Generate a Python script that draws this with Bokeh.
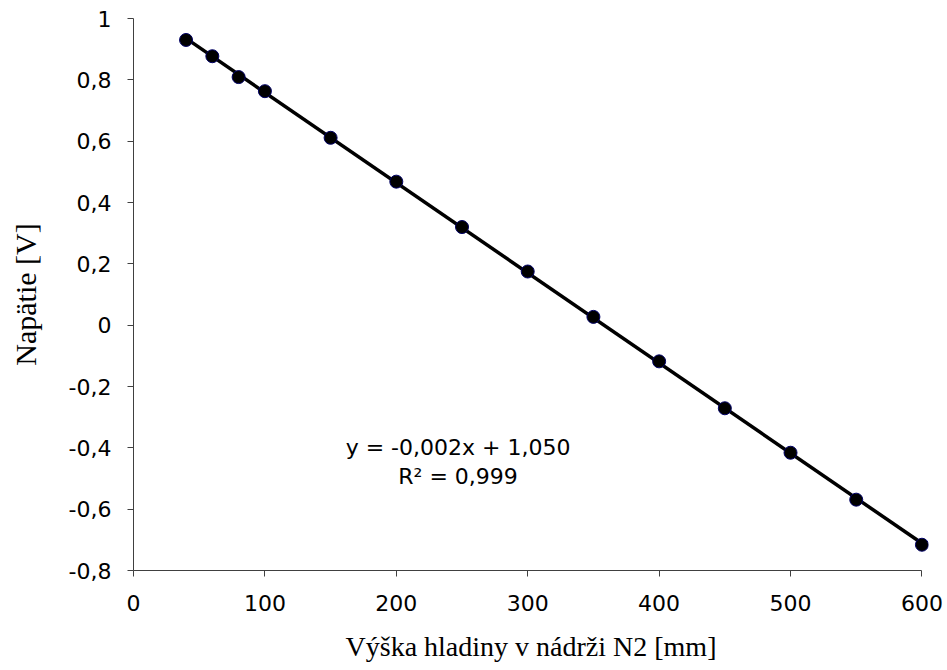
import numpy as np
from bokeh.plotting import figure
from bokeh.models import FixedTicker, CustomJSTickFormatter, ColumnDataSource, Label
from bokeh.embed import file_html
from bokeh.resources import INLINE

# data
height_mm = [40, 60, 80, 100, 150, 200, 250, 300, 350, 400, 450, 500, 550, 600]
voltage_v = [0.93, 0.877, 0.809, 0.763, 0.611, 0.468, 0.32, 0.175, 0.027, -0.118, -0.271, -0.416, -0.569, -0.716]
x_ticks = [0, 100, 200, 300, 400, 500, 600]
y_ticks = [-0.8, -0.6, -0.4, -0.2, 0, 0.2, 0.4, 0.6, 0.8, 1.0]
eq_lines = ["y = -0,002x + 1,050", "R\u00b2 = 0,999"]
eq_x = 247
eq_y = [-0.40, -0.492]

p = figure(frame_width=795, frame_height=552, x_range=(0, 605), y_range=(-0.8, 1.0),
           output_backend="svg", toolbar_location=None,
           min_border_left=133, min_border_top=18, min_border_right=19, min_border_bottom=96)
p.outline_line_color = None
p.grid.visible = False
p.background_fill_color = "white"
p.border_fill_color = "white"

# linear trendline (least squares over the data)
coef = np.polyfit(height_mm, voltage_v, 1)
xs = [min(height_mm), max(height_mm)]
ys = [coef[0] * xx + coef[1] for xx in xs]
p.line(xs, ys, line_color="black", line_width=3.5)

src = ColumnDataSource(dict(x=height_mm, y=voltage_v))
p.scatter("x", "y", source=src, size=13, fill_color="black", line_color="#000066", line_width=1)

fmt = CustomJSTickFormatter(code="""
const v = Math.round(tick*10)/10;
let s = Number.isInteger(v) ? String(v) : v.toFixed(1);
if (s === '-0') s = '0';
return s.replace('.', ',');
""")

for ax in [p.xaxis[0], p.yaxis[0]]:
    ax.axis_line_color = "#404040"
    ax.axis_line_width = 1
    ax.major_tick_line_color = "#404040"
    ax.minor_tick_line_color = None
    ax.major_tick_in = 0
    ax.major_tick_out = 6
    ax.major_label_text_font = "DejaVu Sans"
    ax.major_label_text_font_size = "22px"
    ax.major_label_text_color = "black"
    ax.axis_label_text_font = "Liberation Serif"
    ax.axis_label_text_font_style = "normal"
    ax.axis_label_text_color = "black"

p.xaxis.ticker = FixedTicker(ticks=x_ticks)
p.xaxis.bounds = (0, 600)
p.yaxis.ticker = FixedTicker(ticks=y_ticks)
p.yaxis.formatter = fmt
p.xaxis.major_label_standoff = 18
p.yaxis.major_label_standoff = 16
p.xaxis.axis_label = "V\u00fd\u0161ka hladiny v n\u00e1dr\u017ei N2 [mm]"
p.yaxis.axis_label = "Nap\u00e4tie [V]"
p.xaxis.axis_label_text_font_size = "28px"
p.yaxis.axis_label_text_font_size = "30px"
p.xaxis.axis_label_standoff = 17
p.yaxis.axis_label_standoff = 24

for t, yy in zip(eq_lines, eq_y):
    p.add_layout(Label(x=eq_x, y=yy, text=t, text_align="center", text_baseline="alphabetic",
                       text_font="DejaVu Sans", text_font_size="22px", text_color="black"))

open("out.html", "w").write(file_html(p, INLINE))
